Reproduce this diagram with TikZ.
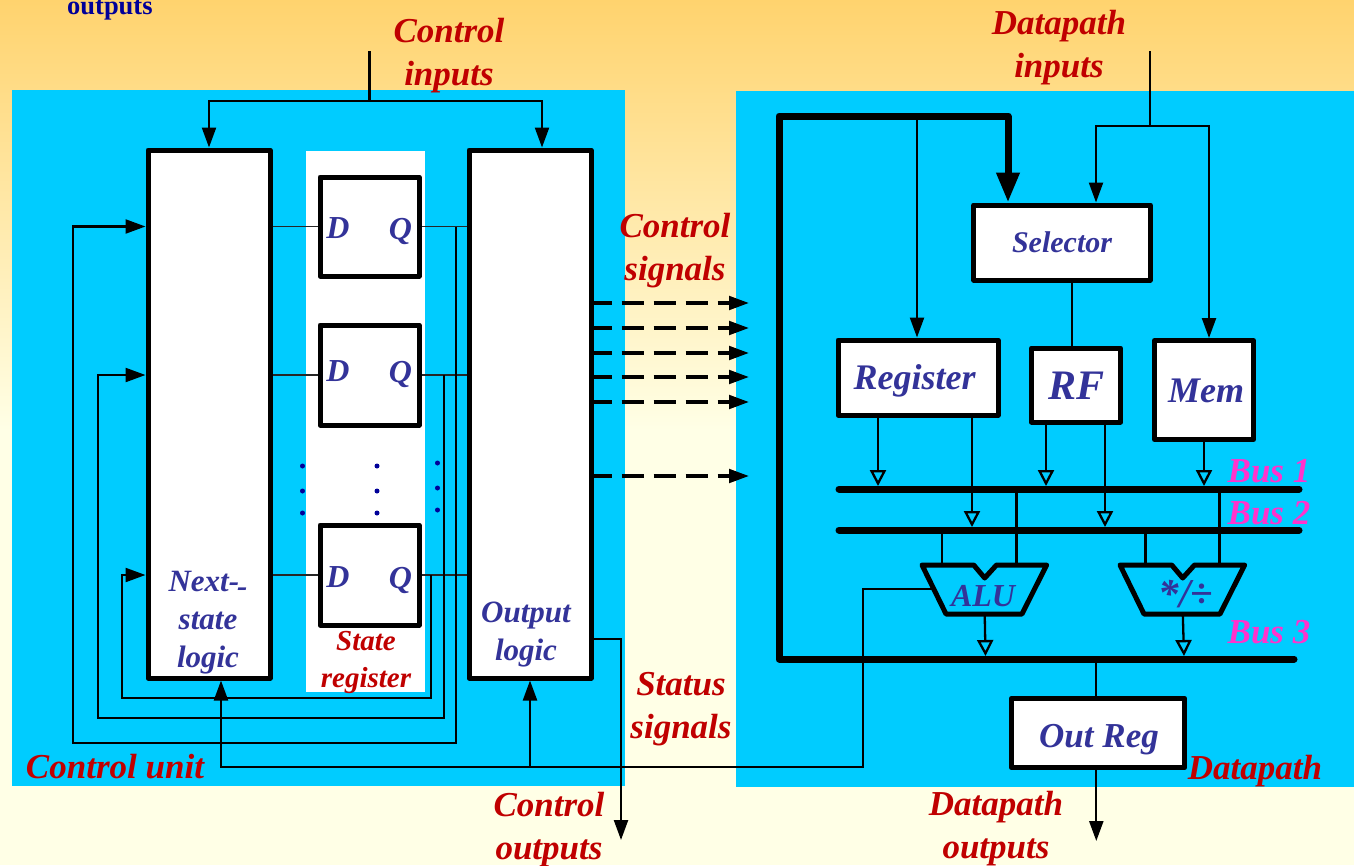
\documentclass[tikz,border=0pt]{standalone}
\usepackage{fontspec}
\setmainfont{Liberation Serif}
\usetikzlibrary{arrows.meta}
\definecolor{panelblue}{HTML}{00CCFF}
\definecolor{lblred}{HTML}{C00000}
\definecolor{lblblue}{HTML}{333399}
\definecolor{lblpink}{HTML}{FF33CC}
\definecolor{dotblue}{HTML}{000099}
\definecolor{bgtop}{HTML}{FFD36E}
\definecolor{bgmid}{HTML}{FFEC9C}
\definecolor{bgbot}{HTML}{FFFFE6}
\tikzset{
  tipa/.tip={Triangle[length=20pt,width=14pt]},
  tipo/.tip={Triangle[open,length=16pt,width=16pt,line width=2.3pt]},
  tipb/.tip={Triangle[length=30pt,width=22pt]},
  wire/.style={line width=2.3pt,line join=miter,draw=black},
  thinwire/.style={line width=1.5pt,draw=black!85},
  busline/.style={line width=7pt,line cap=round,line join=round,draw=black},
  dashedsig/.style={line width=3.5pt,dash pattern=on 22pt off 10pt,dash phase=4pt,draw=black},
  blockbox/.style={draw=black,fill=white,line width=5pt,line join=round,inner sep=0pt},
  fu/.style={draw=black,line width=5pt,line join=round},
  rl/.style={text=lblred,font=\fontsize{35}{43}\selectfont\bfseries\itshape,align=center,inner sep=0pt},
  srl/.style={text=lblred,font=\fontsize{29}{37}\selectfont\bfseries\itshape,align=center,inner sep=0pt},
  bl/.style={text=lblblue,font=\fontsize{32}{38}\selectfont\bfseries\itshape,align=center,inner sep=0pt},
  pl/.style={text=lblpink,font=\fontsize{35}{40}\selectfont\bfseries\itshape,inner sep=0pt},
  dotmark/.style={fill=dotblue,draw=none,circle,minimum size=5pt,inner sep=0pt},
}
\begin{document}
\begin{tikzpicture}[x=1pt,y=-1pt]
\useasboundingbox (0,0) rectangle (1354,865);
% background
\fill[bgbot] (0,0) rectangle (1354,865);
\shade[top color=bgtop,middle color=bgmid,bottom color=bgbot] (0,0) rectangle (1354,430);
\fill[panelblue] (12,90) rectangle (625,786);
\fill[panelblue] (736,91) rectangle (1354,787);
\fill[white] (306,151) rectangle (425,692);

% control-unit blocks
\node[blockbox,minimum width=122pt,minimum height=528pt] (next) at (209,414) {};
\node[blockbox,minimum width=122pt,minimum height=528pt] (outp) at (530,414) {};
\node[blockbox,minimum width=99pt,minimum height=99pt] (ff1) at (369.5,226.5) {};
\node[blockbox,minimum width=99pt,minimum height=100pt] (ff2) at (369.5,375) {};
\node[blockbox,minimum width=99pt,minimum height=100pt] (ff3) at (369.5,575) {};

% control inputs
\coordinate (cin) at (369.5,51);
\coordinate (cbar) at (369.5,101);
\draw[wire] (cin) -- (cbar);
\draw[wire,-{tipa}] (cbar) -- (next.north |- cbar) -- (next.north);
\draw[wire,-{tipa}] (cbar) -- ([xshift=12pt]outp.north |- cbar) -- ([xshift=12pt]outp.north);

% flip-flop wires
\foreach \f in {ff1,ff2,ff3}{
  \draw[thinwire] (next.east |- \f.west) -- (\f.west);
  \draw[thinwire] (\f.east) -- (outp.west |- \f.east);
}
\coordinate (t1) at (456,743); \coordinate (c1) at (73,743);
\coordinate (t2) at (444,718); \coordinate (c2) at (98,718);
\coordinate (t3) at (431,698); \coordinate (c3) at (122,698);
\draw[wire,-{tipa}] (t1 |- ff1.east) -- (t1) -- (c1) -- (c1 |- ff1.west) -- (next.west |- ff1.west);
\draw[wire,-{tipa}] (t2 |- ff2.east) -- (t2) -- (c2) -- (c2 |- ff2.west) -- (next.west |- ff2.west);
\draw[wire,-{tipa}] (t3 |- ff3.east) -- (t3) -- (c3) -- (c3 |- ff3.west) -- (next.west |- ff3.west);

% dots
\foreach \x/\d in {302.5/0,377/0,437.5/-3}{
  \foreach \y in {466,491,513}{
    \node[dotmark] at (\x,\y+\d) {};
  }
}

% control signals
\foreach \y in {303,328,353,377,402,476}{
  \coordinate (sig) at (749,\y);
  \draw[dashedsig,-{Triangle[length=20pt,width=13.5pt]}] (outp.east |- sig) -- (sig);
}

% datapath blocks
\node[blockbox,minimum width=176.5pt,minimum height=75pt] (sel) at (1062,242.5) {};
\node[blockbox,minimum width=160pt,minimum height=75pt] (reg) at (918,377.5) {};
\node[blockbox,minimum width=89pt,minimum height=74pt] (rf) at (1076,385) {};
\node[blockbox,minimum width=99pt,minimum height=99pt] (mem) at (1204,390) {};
\node[blockbox,minimum width=173pt,minimum height=69.5pt] (oreg) at (1098,733) {};

% buses
\coordinate (b1l) at (839,489); \coordinate (b1r) at (1299,489);
\coordinate (b2l) at (839,530); \coordinate (b2r) at (1299,530);
\coordinate (b3c) at (779,659); \coordinate (b3r) at (1294,659);
\coordinate (b3t) at (779,116); \coordinate (bsel) at (1008,116);
\draw[busline] (b1l) -- (b1r);
\draw[busline] (b2l) -- (b2r);
\draw[busline] (b3r) -- (b3c) -- (b3t) -- (bsel) -- (1008,180);
\draw[line width=7pt,-{tipb}] (1008,172) -- (bsel |- sel.north);

% ALU / mul-div outlines
\coordinate (alua) at (984.7,614);
\coordinate (muld) at (1182.8,614);
\draw[fu] (922,565) -- (973.7,565) -- (984.7,578) -- (996.5,565) -- (1046.6,565) -- (1022,614) -- (946,614) -- cycle;
\draw[fu] (1120,565) -- (1171.7,565) -- (1182.7,578) -- (1194.5,565) -- (1244.6,565) -- (1220,614) -- (1144,614) -- cycle;

% branch wires
\draw[wire,-{tipa}] (917,116) -- (917,0 |- reg.north);
\coordinate (din) at (1150,51);
\coordinate (dbar) at (1150,126);
\draw[wire] (din) -- (dbar);
\draw[wire,-{tipa}] (dbar) -- (1096,126) -- (1096,0 |- sel.north);
\draw[wire,-{tipa}] (dbar) -- (1209,126) -- (1209,0 |- mem.north);
\draw[wire] (1072,0 |- sel.south) -- (1072,0 |- rf.north);

% to the buses
\draw[wire,-{tipo}] (878,0 |- reg.south) -- (878,486);
\draw[wire,-{tipo}] (972,0 |- reg.south) -- (972,527);
\draw[wire,-{tipo}] (1046,0 |- rf.south) -- (1046,486);
\draw[wire,-{tipo}] (1105,0 |- rf.south) -- (1105,527);
\draw[wire,-{tipo}] (1204,0 |- mem.south) -- (1204,486);
% from buses
\draw[wire] (1016.4,489) -- (1016.4,565);
\draw[wire] (1219.6,489) -- (1219.6,565);
\draw[wire] (942,530) -- (942,565);
\draw[wire] (1145.6,530) -- (1145.6,565);
% to bus 3
\draw[wire,-{tipo}] (alua) -- (985.5,656);
\draw[wire,-{tipo}] (muld) -- (1184,656);
% out reg
\draw[wire] (1096.3,659) -- (1096.3,0 |- oreg.north);
\coordinate (dout) at (1096.3,841);
\draw[wire,-{tipa}] (dout |- oreg.south) -- (dout);

% status signals
\coordinate (st0) at (932,589);
\coordinate (st1) at (863,589);
\coordinate (st2) at (863,767);
\coordinate (st3) at (530,767);
\draw[wire] (st0) -- (st1) -- (st2) -- (st3);
\draw[wire,-{tipa}] (st3) -- (221,767) -- (221,0 |- next.south);
\draw[wire,-{tipa}] (st3) -- (st3 |- outp.south);

% control outputs
\coordinate (co1) at (621,639);
\coordinate (co2) at (621,840);
\draw[wire,-{tipa}] (outp.east |- co1) -- (co1) -- (co2);

% labels
\node[anchor=base west,inner sep=0pt,text=dotblue,font=\fontsize{26.5}{30}\selectfont\bfseries] (lout) at (67,14) {outputs};
\node[rl] (lci) at (449,55.5) {Control\\inputs};
\node[rl] (ldi) at (1059,48) {Datapath\\inputs};
\node[rl] (lcs) at (675,251) {Control\\signals};
\node[rl] (lss) at (681,709) {Status\\signals};
\node[rl] (lco) at (549,830) {Control\\outputs};
\node[rl] (ldo) at (996,829) {Datapath\\outputs};
\node[rl] (lcu) at (115,767) {Control unit};
\node[rl] (ldp) at (1255,771) {Datapath};
\node[srl] (lsr) at (366,662) {State\\register};
\node[bl,font=\fontsize{31}{38}\selectfont\bfseries\itshape] (lns) at (208,623) {Next-\kern-2pt\raisebox{-5pt}{-}\\state\\logic};
\node[bl,font=\fontsize{31}{38}\selectfont\bfseries\itshape] (lol) at (526,635) {Output\\logic};
\foreach \n/\y in {1/228,2/371,3/577}{
  \node[bl] (dl\n) at (338,\y) {D};
  \node[bl] (ql\n) at (400.5,\y+3) {Q};
}
\node[bl,font=\fontsize{30}{36}\selectfont\bfseries\itshape] (lsel) at (1062,242) {Selector};
\node[bl,font=\fontsize{36}{40}\selectfont\bfseries\itshape] (lreg) at (914.5,381) {Register};
\node[bl,font=\fontsize{42}{46}\selectfont\bfseries\itshape] (lrf) at (1076.5,386) {RF};
\node[bl,font=\fontsize{36}{40}\selectfont\bfseries\itshape] (lmem) at (1206,391) {Mem};
\node[bl] (lalu) at (983,596) {ALU};
\node[bl,font=\fontsize{41}{44}\selectfont\bfseries\itshape] (lmd) at (1186,594) {*/÷};
\node[bl,font=\fontsize{35}{40}\selectfont\bfseries\itshape] (lor) at (1099,740) {Out Reg};
\node[pl] (lb1) at (1269,471) {Bus 1};
\node[pl] (lb2) at (1269,513) {Bus 2};
\node[pl] (lb3) at (1269,632) {Bus 3};
\end{tikzpicture}
\end{document}
